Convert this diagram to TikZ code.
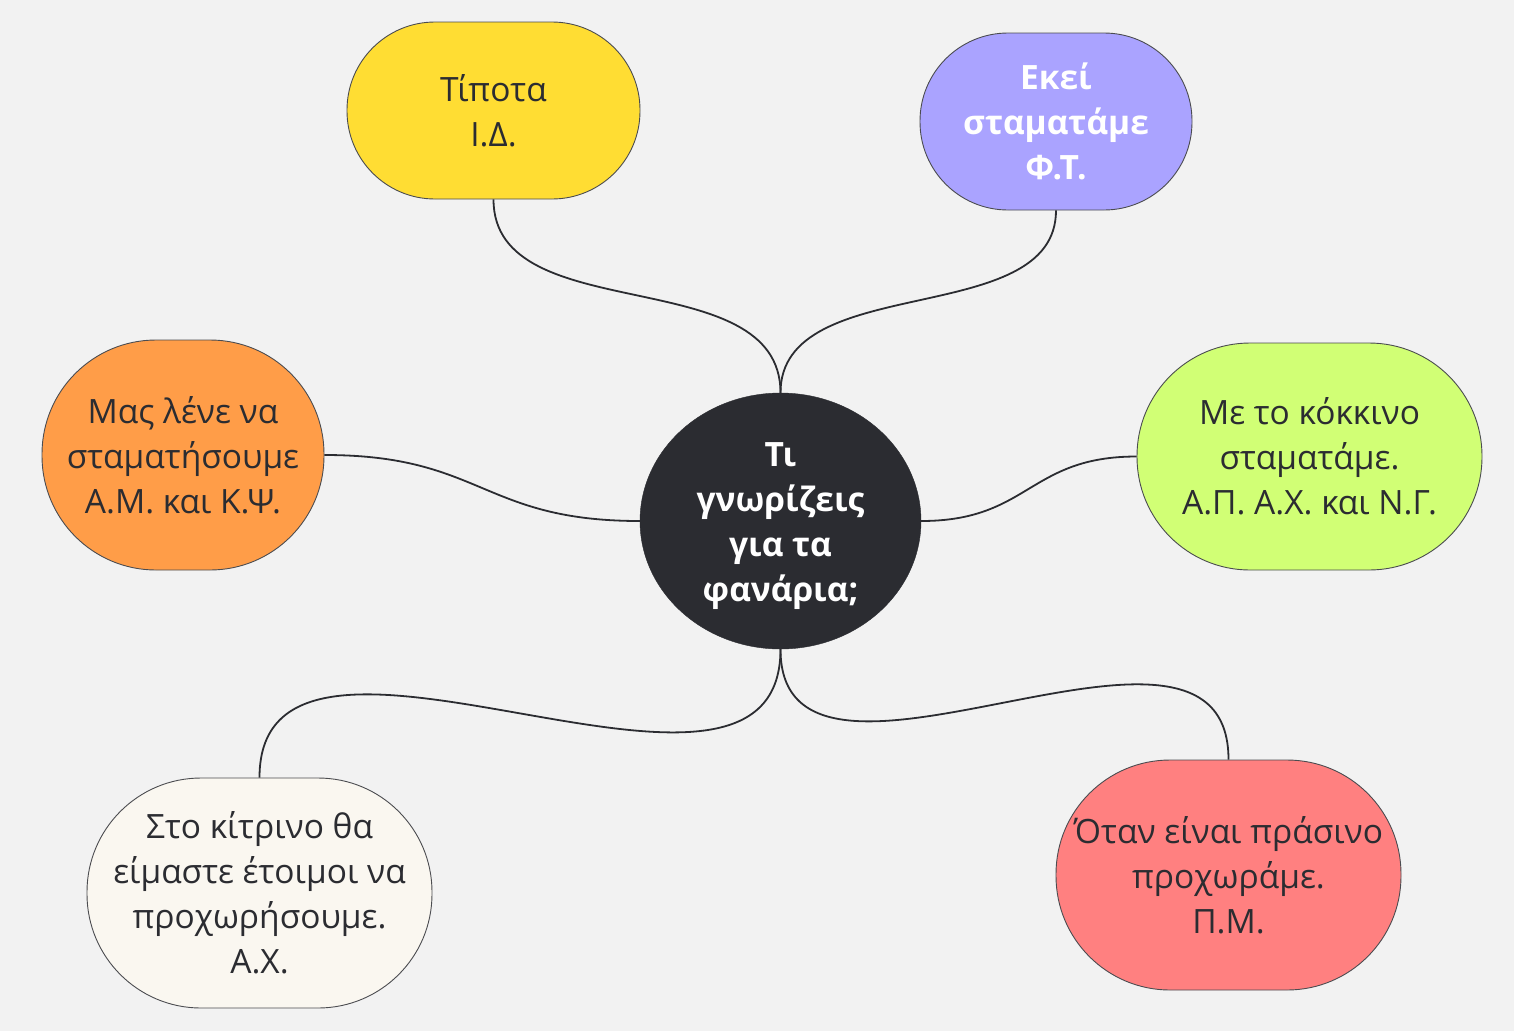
\documentclass[tikz,border=0pt]{standalone}
\usepackage{fontspec}
\setmainfont{Open Sans}
\usetikzlibrary{shapes.geometric}
\definecolor{bgc}{HTML}{F2F2F2}
\definecolor{darkc}{HTML}{2B2C31}
\definecolor{yellowc}{HTML}{FFDD33}
\definecolor{purplec}{HTML}{AAA3FF}
\definecolor{orangec}{HTML}{FF9D48}
\definecolor{greenc}{HTML}{D1FF75}
\definecolor{creamc}{HTML}{FAF7F0}
\definecolor{redc}{HTML}{FF8080}
\tikzset{
  idea/.style={draw=darkc!85, line width=0.9pt, align=center, inner sep=0pt,
    text=darkc, font=\fontsize{33.5}{45}\selectfont},
  hub/.style={ellipse, fill=darkc, draw=darkc, inner sep=0pt, align=center,
    text=white, font=\fontsize{33.5}{45}\selectfont\bfseries,
    minimum width=281pt, minimum height=256pt},
  link/.style={draw=darkc, line width=1.8pt}
}
\begin{document}
\begin{tikzpicture}[x=1pt,y=-1pt]
\fill[bgc] (0,0) rectangle (1514,1031);
\useasboundingbox (0,0) rectangle (1514,1031);

\node[hub] (c) at (780.5,521) {\rule{0pt}{34pt}Τι\\γνωρίζεις\\για τα\\φανάρια;};

\node[idea, fill=yellowc, rounded corners=88pt, minimum width=293pt, minimum height=177pt]
  (y) at (493.5,110.5) {Τίποτα\\Ι.Δ.};
\node[idea, fill=purplec, rounded corners=88pt, minimum width=272pt, minimum height=177pt,
  text=white, font=\fontsize{33.5}{45}\selectfont\bfseries]
  (p) at (1056,121.5) {Εκεί\\σταματάμε\\Φ.Τ.};
\node[idea, fill=orangec, rounded corners=114pt, minimum width=282pt, minimum height=230pt]
  (o) at (183,455) {Μας λένε να\\σταματήσουμε\\Α.Μ. και Κ.Ψ.};
\node[idea, fill=greenc, rounded corners=113pt, minimum width=345pt, minimum height=227pt]
  (g) at (1309.5,456.5) {Με το κόκκινο\\σταματάμε.\\Α.Π. Α.Χ. και Ν.Γ.};
\node[idea, fill=creamc, rounded corners=114pt, minimum width=345pt, minimum height=230pt]
  (w) at (259.5,893) {Στο κίτρινο θα\\είμαστε έτοιμοι να\\προχωρήσουμε.\\Α.Χ.};
\node[idea, fill=redc, rounded corners=114pt, minimum width=345pt, minimum height=230pt]
  (r) at (1228.5,875) {Όταν είναι πράσινο\\προχωράμε.\\Π.Μ.};

\draw[link] (y.south) .. controls +(0,131) and +(0,-133) .. (c.north);
\draw[link] (p.south) .. controls +(0,120) and +(0,-123) .. (c.north);
\draw[link] (o.east) .. controls +(158,0) and +(-158,0) .. (c.west);
\draw[link] (c.east) .. controls +(108,0) and +(-108,0) .. (g.west);
\draw[link] (c.south) .. controls +(0,220) and +(0,-220) .. (w.north);
\draw[link] (c.south) .. controls +(0,195) and +(0,-200) .. (r.north);
\end{tikzpicture}
\end{document}
